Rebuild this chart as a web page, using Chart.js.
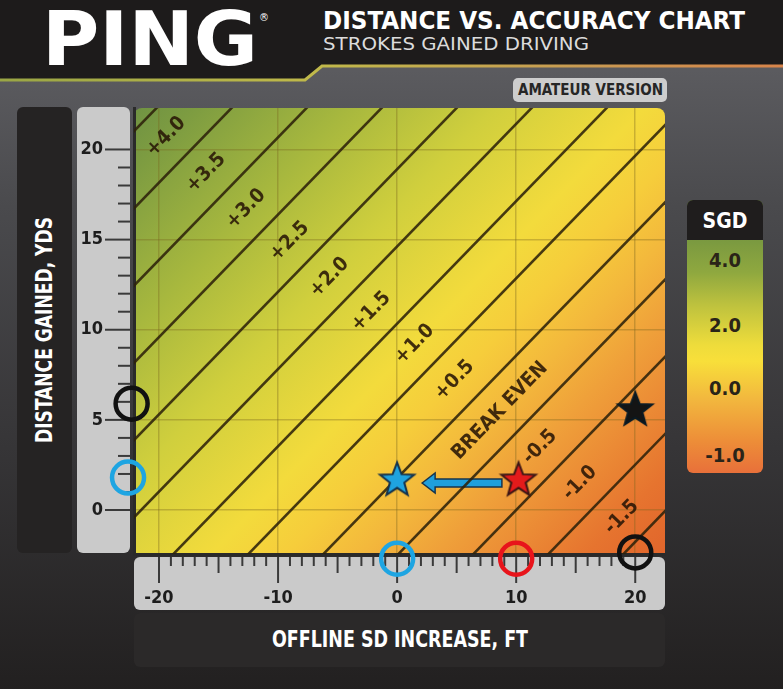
<!DOCTYPE html>
<html>
<head>
<meta charset="utf-8">
<title>Distance vs. Accuracy Chart</title>
<script src="https://cdn.jsdelivr.net/npm/chart.js@4.4.1/dist/chart.umd.min.js"></script>
<style>
  html, body { margin: 0; padding: 0; background: #242222; }
  #page { position: relative; width: 783px; height: 689px; overflow: hidden; }
  #deco, #chart { position: absolute; left: 0; top: 0; }
  .narrow { font-family: 'Liberation Sans Narrow', 'DejaVu Sans Condensed', 'Roboto Condensed', 'Liberation Sans', sans-serif; font-weight: bold; }
</style>
</head>
<body>
<div id="page">
<svg id="deco" width="783" height="689" xmlns="http://www.w3.org/2000/svg">
  <defs>
    <linearGradient id="bg" x1="0" y1="0" x2="0" y2="1">
      <stop offset="0.09" stop-color="#5c5c60"/>
      <stop offset="0.3" stop-color="#4a4a4d"/>
      <stop offset="0.65" stop-color="#363537"/>
      <stop offset="1" stop-color="#222020"/>
    </linearGradient>
    <linearGradient id="edge" x1="0" y1="0" x2="783" y2="0" gradientUnits="userSpaceOnUse">
      <stop offset="0" stop-color="#9aa645"/>
      <stop offset="0.4" stop-color="#c0b94a"/>
      <stop offset="0.75" stop-color="#c99a52"/>
      <stop offset="1" stop-color="#d8844a"/>
    </linearGradient>
    <linearGradient id="sgdBar" x1="0" y1="240" x2="0" y2="473" gradientUnits="userSpaceOnUse">
      <stop offset="0" stop-color="#7a9940"/>
      <stop offset="0.14" stop-color="#8fa83f"/>
      <stop offset="0.28" stop-color="#bec23e"/>
      <stop offset="0.45" stop-color="#eedc3b"/>
      <stop offset="0.52" stop-color="#f8df3a"/>
      <stop offset="0.68" stop-color="#f2b83e"/>
      <stop offset="0.86" stop-color="#ed8e38"/>
      <stop offset="1" stop-color="#e8703a"/>
    </linearGradient>
  </defs>
  <rect width="783" height="689" fill="url(#bg)"/>
  <polygon points="0,0 783,0 783,65 322,65 305,79 0,79" fill="#1d1b1b"/>
  <polyline points="0,80 305,80 322,66 783,66" fill="none" stroke="url(#edge)" stroke-width="3"/>

  <text x="42" y="65" fill="#ffffff" font-family="'DejaVu Sans', sans-serif" font-weight="bold" font-size="74" textLength="216" lengthAdjust="spacingAndGlyphs">PING</text>
  <text x="259" y="21" fill="#ffffff" font-family="'DejaVu Sans', sans-serif" font-size="10">®</text>
  <text class="narrow" x="323" y="29" fill="#ffffff" font-size="24" textLength="422" lengthAdjust="spacingAndGlyphs">DISTANCE VS. ACCURACY CHART</text>
  <text class="narrow" x="323" y="50" fill="#dcdcdc" font-size="18" style="font-weight:normal" textLength="266" lengthAdjust="spacingAndGlyphs">STROKES GAINED DRIVING</text>

  <rect x="513" y="78" width="154" height="24" rx="5" fill="#cdcdcd"/>
  <text class="narrow" x="518" y="95" fill="#262626" font-size="15" textLength="145" lengthAdjust="spacingAndGlyphs">AMATEUR VERSION</text>

  <rect x="17" y="107" width="55" height="446" rx="6" fill="#252323"/>
  <text class="narrow" transform="translate(52,330) rotate(-90)" text-anchor="middle" fill="#ffffff" font-size="23" textLength="226" lengthAdjust="spacingAndGlyphs">DISTANCE GAINED, YDS</text>

  <rect x="134" y="613" width="531" height="54" rx="6" fill="#2b2929"/>
  <text class="narrow" x="400" y="647" text-anchor="middle" fill="#ffffff" font-size="23" textLength="256" lengthAdjust="spacingAndGlyphs">OFFLINE SD INCREASE, FT</text>

  <rect x="687" y="200" width="76" height="273" rx="6" fill="url(#sgdBar)"/>
  <rect x="687" y="200" width="76" height="40" rx="6" fill="#1f1d1d"/>
  <rect x="687" y="228" width="76" height="12" fill="#1f1d1d"/>
  <text class="narrow" x="725" y="228" text-anchor="middle" fill="#ffffff" font-size="21">SGD</text>
  <text class="narrow" x="725" y="267" text-anchor="middle" fill="#2a2418" font-size="20">4.0</text>
  <text class="narrow" x="725" y="332" text-anchor="middle" fill="#2a2418" font-size="20">2.0</text>
  <text class="narrow" x="725" y="395" text-anchor="middle" fill="#2a2418" font-size="20">0.0</text>
  <text class="narrow" x="725" y="462" text-anchor="middle" fill="#2a2418" font-size="20">-1.0</text>
</svg>
<canvas id="chart" width="783" height="689"></canvas>
</div>

<script>
// ---- valores ----
const xTicks = [-20, -10, 0, 10, 20];
const yTicks = [0, 5, 10, 15, 20];

// nivel de SGD de cada linha diagonal e onde ela cruza 0 yds (ft)
const contourLevels = [4.25, 3.75, 3.25, 2.75, 2.25, 1.75, 1.25, 0.75, 0.25, -0.25, -0.75, -1.25, -1.75, -2.25];
const contourX0 = [-53.0, -46.7, -40.4, -34.1, -27.8, -21.5, -15.2, -8.9, -2.6, 3.7, 10.0, 16.3, 22.6, 28.9];
const contourSlope = 0.68; // yds ganhas por ft ao longo de uma linha

// rotulos das faixas e a altura (yds) onde cada um fica
const bandLabels = ['+4.0', '+3.5', '+3.0', '+2.5', '+2.0', '+1.5', '+1.0', '+0.5', 'BREAK EVEN', '-0.5', '-1.0', '-1.5'];
const bandLabelY = [20.7, 18.7, 16.7, 14.9, 12.9, 11.0, 9.2, 7.2, 5.5, 3.5, 1.5, -0.4];

// marcadores
const starX = [0, 10.2, 20];
const starY = [1.7, 1.7, 5.6];
const circleX = [-22.3, -22.6, 0, 10, 20];
const circleY = [5.9, 1.8, -2.7, -2.7, -2.35];
const arrowFrom = [8.8, 1.5];
const arrowTo = [2.1, 1.5];

// escala de cor do fundo (SGD)
const sgdStops = [4.5, 4.0, 3.0, 2.0, 1.0, 0.5, 0.0, -0.5, -1.0, -1.5, -2.25];

// ---- estilos ----
const xMin = -22.1, xMax = 22.5, yMin = -2.44, yMax = 22.3;
const sgdColors = ['#6c9043', '#7d9c41', '#a6b73e', '#d0cf3d', '#f3db3c', '#f6cd3b', '#f3b83c', '#efa03a', '#eb8a35', '#e6742f', '#df5f2a'];
const starColors = ['#1fa3df', '#e41b1b', '#141414'];
const starEdges = ['#14324c', '#3a1515', '#0a1a24'];
const circleColors = ['#111111', '#1ea5e2', '#1ea5e2', '#e8141b', '#111111'];
const FONT = "'Liberation Sans Narrow', 'DejaVu Sans Condensed', 'Roboto Condensed', 'Liberation Sans', sans-serif";
const gridColor = 'rgba(120, 100, 30, 0.35)';

// Desenhar estrela de 5 pontas num canvas (pointStyle)
function starImage(fill, edge, r) {
    const c = document.createElement('canvas');
    const s = Math.ceil(r * 2 + 6);
    c.width = s;
    c.height = s;
    const g = c.getContext('2d');
    g.beginPath();
    for (let i = 0; i < 10; i++) {
        const rad = i % 2 ? r * 0.42 : r;
        const ang = -Math.PI / 2 + i * Math.PI / 5;
        g.lineTo(s / 2 + rad * Math.cos(ang), s / 2 + 1 + rad * Math.sin(ang));
    }
    g.closePath();
    g.fillStyle = fill;
    g.fill();
    g.lineWidth = 2;
    g.strokeStyle = edge;
    g.stroke();
    return c;
}

function roundRect(ctx, x, y, w, h, r, squareBottom) {
    ctx.beginPath();
    ctx.moveTo(x + r, y);
    ctx.lineTo(x + w - r, y);
    ctx.arcTo(x + w, y, x + w, y + r, r);
    if (squareBottom) {
        ctx.lineTo(x + w, y + h);
        ctx.lineTo(x, y + h);
    } else {
        ctx.lineTo(x + w, y + h - r);
        ctx.arcTo(x + w, y + h, x + w - r, y + h, r);
        ctx.lineTo(x + r, y + h);
        ctx.arcTo(x, y + h, x, y + h - r, r);
    }
    ctx.lineTo(x, y + r);
    ctx.arcTo(x, y, x + r, y, r);
    ctx.closePath();
}

// Fundo: faixas cinzas dos eixos e gradiente de SGD
const backgroundPlugin = {
    id: 'sgdBackground',
    beforeDraw(chart) {
        const { ctx, chartArea: a, scales: { x, y } } = chart;
        ctx.save();
        ctx.fillStyle = '#cacaca';
        roundRect(ctx, a.left - 57, a.top - 1, 53, a.bottom - a.top, 6);
        ctx.fill();
        roundRect(ctx, a.left, a.bottom + 3, a.right - a.left, 53, 6);
        ctx.fill();

        // direcao das linhas em pixels e normal (para SGD decrescente)
        const p0 = { x: x.getPixelForValue(contourX0[0]), y: y.getPixelForValue(0) };
        const p1 = { x: x.getPixelForValue(contourX0[0] + 10 / contourSlope), y: y.getPixelForValue(10) };
        const len = Math.hypot(p1.x - p0.x, p1.y - p0.y);
        const d = { x: (p1.x - p0.x) / len, y: (p1.y - p0.y) / len };
        const n = { x: -d.y, y: d.x };
        const last = contourLevels.length - 1;
        const q0 = { x: x.getPixelForValue(contourX0[last]), y: y.getPixelForValue(0) };
        const dist = (q0.x - p0.x) * n.x + (q0.y - p0.y) * n.y;
        const ppu = dist / (contourLevels[0] - contourLevels[last]);
        const at = lvl => ({ x: p0.x + n.x * (contourLevels[0] - lvl) * ppu, y: p0.y + n.y * (contourLevels[0] - lvl) * ppu });
        const g0 = at(sgdStops[0]);
        const g1 = at(sgdStops[sgdStops.length - 1]);
        const grad = ctx.createLinearGradient(g0.x, g0.y, g1.x, g1.y);
        const span = sgdStops[0] - sgdStops[sgdStops.length - 1];
        sgdStops.forEach((s, i) => grad.addColorStop((sgdStops[0] - s) / span, sgdColors[i]));
        ctx.fillStyle = grad;
        roundRect(ctx, a.left, a.top, a.right - a.left, a.bottom - a.top, 8, true);
        ctx.fill();
        ctx.restore();
    },
    beforeDatasetsDraw(chart) {
        const { ctx, chartArea: a, scales: { x, y } } = chart;
        ctx.save();
        // marcas menores dos eixos
        ctx.strokeStyle = '#3a3a3a';
        ctx.lineWidth = 2;
        for (let v = xTicks[0]; v <= xTicks[xTicks.length - 1]; v++) {
            const px = x.getPixelForValue(v);
            const l = v % 10 === 0 ? 26 : (v % 5 === 0 ? 16 : 9);
            ctx.beginPath();
            ctx.moveTo(px, a.bottom + 3);
            ctx.lineTo(px, a.bottom + 3 + l);
            ctx.stroke();
        }
        for (let v = yTicks[0]; v <= yTicks[yTicks.length - 1]; v++) {
            const py = y.getPixelForValue(v);
            const l = v % 5 === 0 ? 25 : 12;
            ctx.beginPath();
            ctx.moveTo(a.left - 4 - l, py);
            ctx.lineTo(a.left - 4, py);
            ctx.stroke();
        }

        // seta azul
        const tail = { x: x.getPixelForValue(arrowFrom[0]), y: y.getPixelForValue(arrowFrom[1]) };
        const tip = { x: x.getPixelForValue(arrowTo[0]), y: y.getPixelForValue(arrowTo[1]) };
        ctx.beginPath();
        ctx.moveTo(tip.x, tip.y);
        ctx.lineTo(tip.x + 13, tip.y - 10);
        ctx.lineTo(tip.x + 13, tip.y - 4);
        ctx.lineTo(tail.x, tail.y - 4);
        ctx.lineTo(tail.x, tail.y + 4);
        ctx.lineTo(tip.x + 13, tip.y + 4);
        ctx.lineTo(tip.x + 13, tip.y + 10);
        ctx.closePath();
        ctx.fillStyle = '#1e9fdc';
        ctx.fill();
        ctx.lineWidth = 1.5;
        ctx.strokeStyle = '#17344c';
        ctx.stroke();
        ctx.restore();
    },
    afterDatasetsDraw(chart) {
        const { ctx, scales: { x, y } } = chart;
        const angle = Math.atan2(y.getPixelForValue(10) - y.getPixelForValue(0),
            x.getPixelForValue(10 / contourSlope) - x.getPixelForValue(0));
        ctx.save();
        ctx.fillStyle = 'rgba(40, 22, 6, 0.88)';
        ctx.font = 'bold 20px ' + FONT;
        ctx.textAlign = 'center';
        ctx.textBaseline = 'middle';
        bandLabels.forEach((t, i) => {
            const xc = (contourX0[i] + contourX0[i + 1]) / 2 + bandLabelY[i] / contourSlope;
            ctx.save();
            ctx.translate(x.getPixelForValue(xc), y.getPixelForValue(bandLabelY[i]));
            ctx.rotate(angle);
            ctx.fillText(t, 0, 0);
            ctx.restore();
        });
        ctx.restore();
    }
};

const lineSets = contourLevels.map((lvl, i) => ({
    type: 'line',
    label: 'SGD ' + lvl,
    data: [yMin - 2, yMax + 2].map(v => ({ x: contourX0[i] + v / contourSlope, y: v })),
    borderColor: 'rgba(45, 34, 10, 0.88)',
    borderWidth: 2.6,
    pointRadius: 0,
    clip: 0,
    order: 3
}));

const starImgs = starColors.map((c, i) => starImage(c, starEdges[i], 18));

new Chart(document.getElementById('chart'), {
    type: 'scatter',
    data: {
        datasets: [
            ...lineSets,
            {
                label: 'circles',
                data: circleX.map((v, i) => ({ x: v, y: circleY[i] })),
                pointStyle: 'circle',
                pointRadius: 16,
                pointBorderWidth: 4.5,
                pointBackgroundColor: 'rgba(0,0,0,0)',
                pointBorderColor: circleColors,
                clip: false,
                order: 1
            },
            {
                label: 'stars',
                data: starX.map((v, i) => ({ x: v, y: starY[i] })),
                pointStyle: starImgs,
                pointRadius: 12,
                clip: false,
                order: 0
            }
        ]
    },
    options: {
        responsive: false,
        animation: false,
        events: [],
        layout: { padding: { left: 77, top: 108, right: 118, bottom: 79 } },
        plugins: { legend: { display: false }, tooltip: { enabled: false } },
        scales: {
            x: {
                type: 'linear',
                min: xMin,
                max: xMax,
                afterBuildTicks: s => { s.ticks = xTicks.map(v => ({ value: v })); },
                afterFit: s => { s.height = 56; },
                grid: { color: gridColor, lineWidth: 1.5, drawTicks: false },
                border: { display: true, color: '#2a2a2a', width: 3 },
                ticks: { color: '#1d1d1d', padding: 34, maxRotation: 0, autoSkip: false, font: { family: FONT, size: 18, weight: 'bold' } }
            },
            y: {
                type: 'linear',
                min: yMin,
                max: yMax,
                afterBuildTicks: s => { s.ticks = yTicks.map(v => ({ value: v })); },
                afterFit: s => { s.width = 57; },
                grid: { color: gridColor, lineWidth: 1.5, drawTicks: false },
                border: { display: true, color: '#2a2a2a', width: 3 },
                ticks: { color: '#1d1d1d', padding: 31, autoSkip: false, font: { family: FONT, size: 18, weight: 'bold' } }
            }
        }
    },
    plugins: [backgroundPlugin]
});
</script>
</body>
</html>
